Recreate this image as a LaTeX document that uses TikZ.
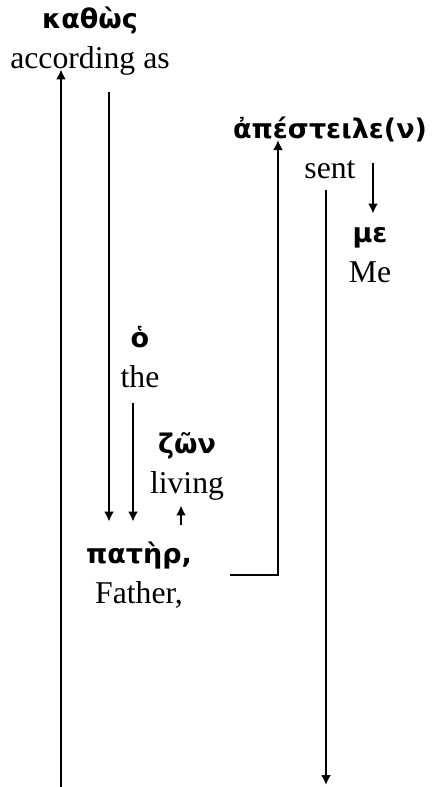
\documentclass[tikz,border=0pt]{standalone}
\usepackage{fontspec}
\setmainfont{Liberation Serif}
\newfontfamily\grkfont{DejaVu Sans}
\usetikzlibrary{arrows.meta}
\newcommand{\gk}[1]{{\fontsize{13.5pt}{20pt}\grkfont\bfseries\strut #1}}
\tikzset{
  word/.style={align=center, inner sep=0pt, anchor=base,
    font=\fontsize{15.85pt}{20pt}\selectfont},
  arr/.style={-{Latex[length=5pt,width=5pt]}, line width=1pt}
}
\begin{document}
\begin{tikzpicture}[x=0.5pt, y=-0.5pt]
   \useasboundingbox (0,0) rectangle (435,787);

   % base = baseline of the English line
   \node [word] (kat) at (90,68)   {\gk{καθὼς}\\\strut according as};
   \node [word] (ap)  at (330,178) {\gk{ἀπέστειλε(ν)}\\\strut sent};
   \node [word] (me)  at (370,282) {\gk{με}\\\strut Me};
   \node [word] (ho)  at (140,387) {\gk{ὁ}\\\strut the};
   \node [word] (zon) at (187,493) {\gk{ζῶν}\\\strut living};
   \node [word] (pat) at (139,603) {\gk{πατὴρ,}\\\strut Father,};

   \coordinate (kbot) at (61,787);
   \coordinate (ktop) at (109,92);
   \coordinate (hbot) at (133,403);
   \coordinate (zbot) at (181,525);
   \coordinate (sbot) at (326,785);
   \coordinate (mtop) at (373,163);

   \draw [arr, shorten >=-5.5pt] (kbot) -- (kbot |- kat.south);
   \draw [arr, shorten >=6.5pt] (ktop) -- (ktop |- pat.north);
   \draw [arr, shorten >=6.5pt] (hbot) -- (hbot |- pat.north);
   \draw [arr] (zbot) -- (zbot |- zon.south);
   \draw [arr] ([xshift=19pt]pat.east) -| ([xshift=-26pt,yshift=19pt]ap.base);
   \draw [arr] (ap.south -| sbot) -- (sbot);
   \draw [arr] (mtop) -- (mtop |- me.north);
\end{tikzpicture}
\end{document}
